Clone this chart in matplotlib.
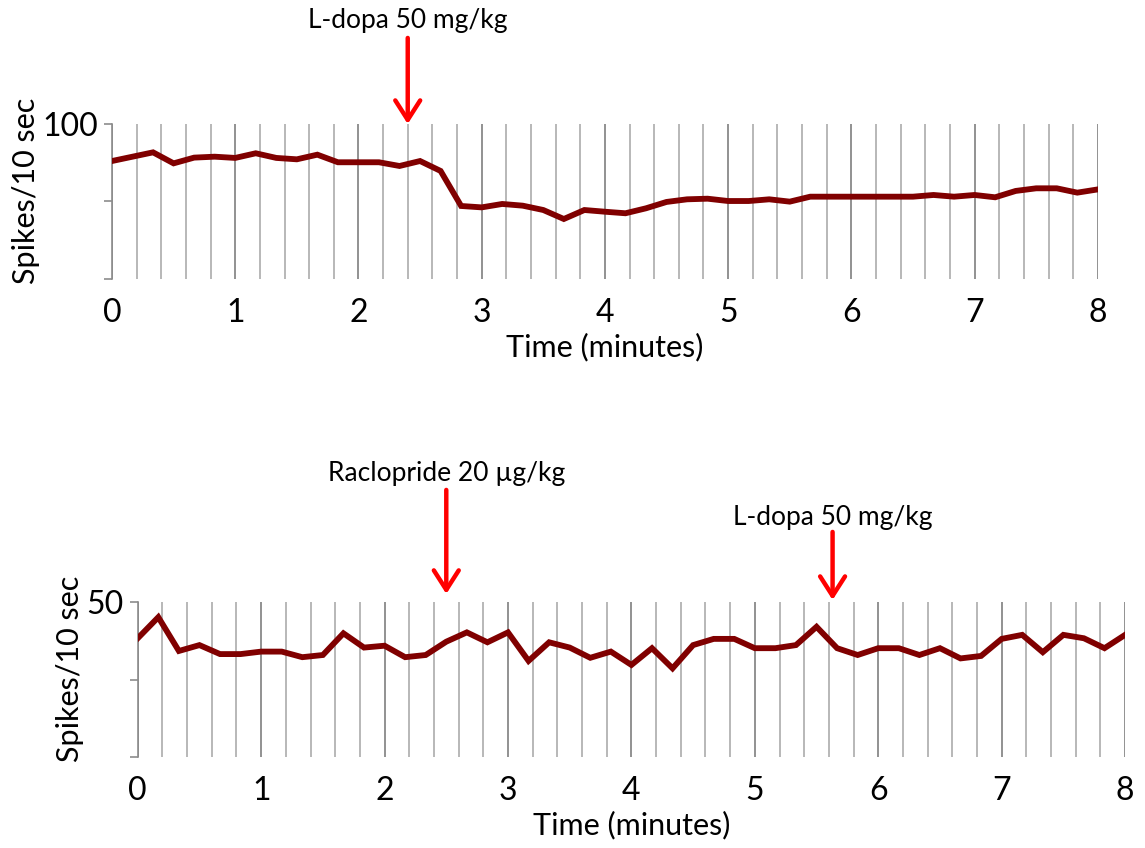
import numpy as np
import matplotlib
matplotlib.use("Agg")
import matplotlib.pyplot as plt

plt.rcParams['font.family'] = ['Lato', 'DejaVu Sans']

# firing rate in 10 s bins, 0-8 min
bin_minutes = np.arange(49) / 6.0

ldopa_rate = [76.1, 78.9, 81.7, 74.6, 78.3, 78.9, 78.1, 81.1, 78.1, 77.2,
              80.2, 75.3, 75.3, 75.3, 72.9, 76.1, 69.7, 47.1, 46.2, 48.4,
              47.3, 44.5, 38.7, 44.5, 43.4, 42.4, 45.6, 49.7, 51.4, 51.8,
              50.3, 50.3, 51.4, 49.9, 53.1, 53.1, 53.1, 53.1, 53.1, 53.1,
              54.2, 53.1, 54.2, 52.7, 56.8, 58.5, 58.5, 55.7, 57.8]

raclo_rate = [38.3, 45.1, 34.2, 36.1, 33.2, 33.2, 34.0, 34.0, 32.2, 32.9,
              39.9, 35.3, 35.9, 32.2, 32.9, 37.2, 40.2, 37.0, 40.2, 31.0,
              37.0, 35.3, 32.0, 34.0, 29.7, 35.1, 28.6, 36.1, 38.1, 38.1,
              35.1, 35.1, 36.1, 42.0, 35.1, 32.9, 35.1, 35.1, 32.9, 35.1,
              31.8, 32.6, 38.1, 39.4, 33.8, 39.4, 38.3, 35.1, 39.4]

minute_labels = ['0', '1', '2', '3', '4', '5', '6', '7', '8']

# (time, text, arrow tail, arrow tip, text y) in axes fraction for y
top_injections = [(2.4, 'L-dopa 50 mg/kg', 1.555, 1.0, 1.67)]
bottom_injections = [(2.5, 'Raclopride 20 µg/kg', 1.723, 1.052, 1.832),
                     (5.63, 'L-dopa 50 mg/kg', 1.452, 1.013, 1.548)]

line_color = '#800000'
arrow_color = '#ff0000'


def draw_panel(ax, rate, ymax, injections):
    ax.plot(bin_minutes, rate, color=line_color, lw=4.2,
            solid_joinstyle='miter', zorder=3)
    ax.set_xlim(0, 8)
    ax.set_ylim(0, ymax)

    ax.set_xticks(np.arange(9))
    ax.set_xticklabels(minute_labels, fontsize=23)
    ax.set_xticks(np.arange(0, 8.01, 0.2), minor=True)
    ax.grid(True, axis='x', which='major', color='#7f7f7f', lw=1.2)
    ax.grid(True, axis='x', which='minor', color='#ababab', lw=1.2)
    ax.tick_params(axis='x', which='both', length=0, pad=14)

    ax.set_yticks([0, ymax / 2, ymax])
    ax.set_yticklabels(['', '', str(ymax)], fontsize=23)
    ax.tick_params(axis='y', length=6, width=1.2, color='#8c8c8c', pad=4)

    for side in ['top', 'right', 'bottom']:
        ax.spines[side].set_visible(False)
    ax.spines['left'].set_color('#8c8c8c')
    ax.spines['left'].set_linewidth(1.2)

    ax.set_xlabel('Time (minutes)', fontsize=22, labelpad=3)
    ax.set_ylabel('Spikes/10 sec', fontsize=22, labelpad=2)
    ax.yaxis.label.set_y(0.57)

    for t, label, tail, tip, text_y in injections:
        ax.annotate('', xy=(t, tip), xytext=(t, tail),
                    xycoords=('data', 'axes fraction'),
                    textcoords=('data', 'axes fraction'),
                    arrowprops=dict(arrowstyle='->,head_length=0.5,head_width=0.32',
                                    color=arrow_color, lw=3.2,
                                    mutation_scale=28, shrinkA=0, shrinkB=0),
                    annotation_clip=False)
        ax.text(t, text_y, label, transform=ax.get_xaxis_transform(),
                ha='center', va='center', fontsize=19)


fig = plt.figure(figsize=(11.45, 8.48), dpi=100)
ax_top = fig.add_axes([0.0978, 0.671, 0.861, 0.1828])
ax_bot = fig.add_axes([0.1203, 0.1073, 0.8623, 0.1828])

draw_panel(ax_top, ldopa_rate, 100, top_injections)
draw_panel(ax_bot, raclo_rate, 50, bottom_injections)

fig.savefig('out.png', dpi=100)
